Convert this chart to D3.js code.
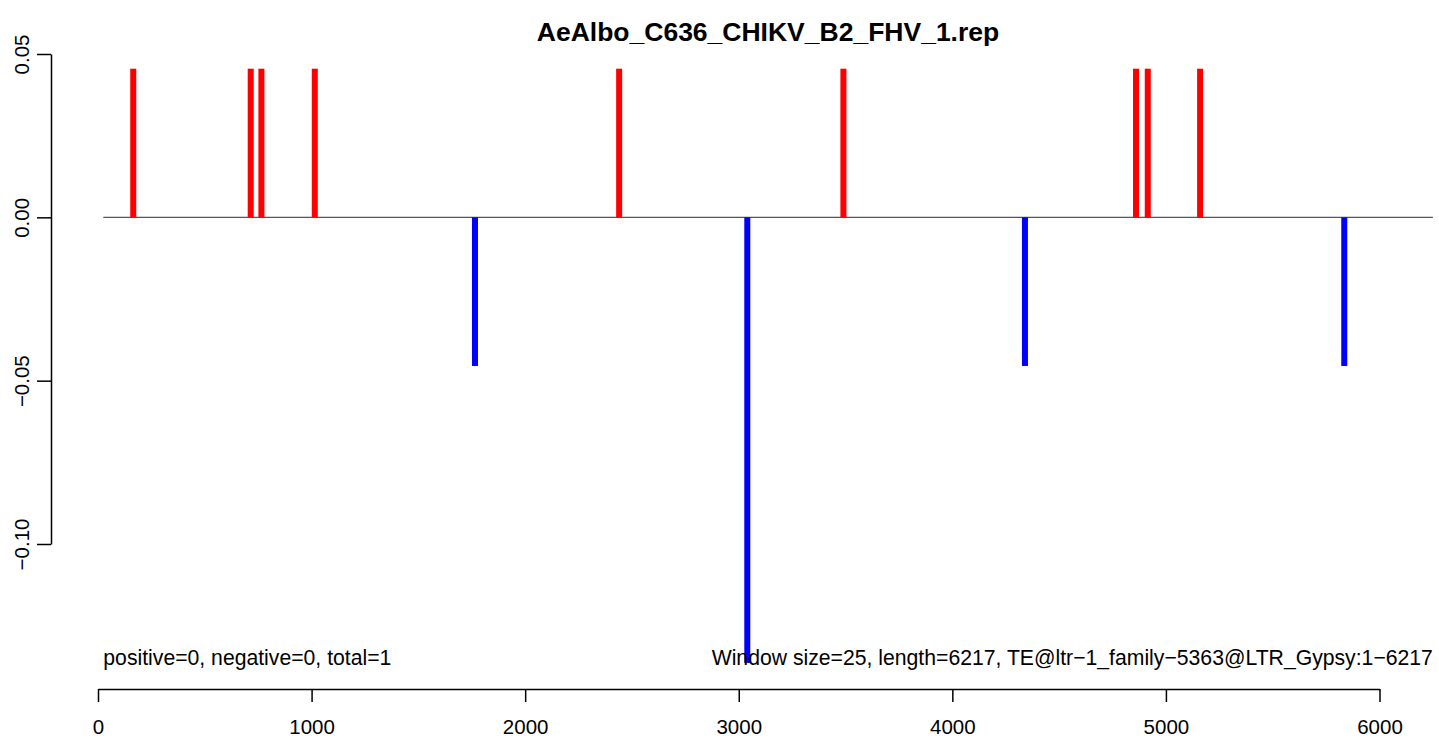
<!DOCTYPE html>
<html>
<head>
<meta charset="utf-8">
<script src="https://cdn.jsdelivr.net/npm/d3@7"></script>
<style>
  html, body { margin: 0; padding: 0; background: #fff; }
  svg { display: block; font-family: "Liberation Sans", Arial, Helvetica, sans-serif; }
</style>
</head>
<body>
<svg id="chart" width="1439" height="740"></svg>
<script>
// ---- data ----
const title = "AeAlbo_C636_CHIKV_B2_FHV_1.rep";
const positions = [165, 715, 765, 1015, 1765, 2440, 3040, 3490, 4340, 4860, 4915, 5160, 5835];
const values    = [0.0455, 0.0455, 0.0455, 0.0455, -0.0455, 0.0455, -0.1364, 0.0455, -0.0455, 0.0455, 0.0455, 0.0455, -0.0455];
const xTicks = [0, 1000, 2000, 3000, 4000, 5000, 6000];
const yTicks = [0.05, 0.00, -0.05, -0.10];
const yTickLabels = ["0.05", "0.00", "\u22120.05", "\u22120.10"];
const baselineRange = [25, 6250];
const leftNote = "positive=0, negative=0, total=1";
const rightNote = "Window size=25, length=6217, TE@ltr\u22121_family\u22125363@LTR_Gypsy:1\u22126217";

const svg = d3.select("#chart");

const x = d3.scaleLinear().domain([0, 6000]).range([98, 1379.5]);
const y = d3.scaleLinear().domain([-0.10, 0.05]).range([544, 54]);

// baseline
svg.append("line")
  .attr("x1", x(baselineRange[0])).attr("x2", x(baselineRange[1]))
  .attr("y1", y(0)).attr("y2", y(0))
  .attr("stroke", "#555").attr("stroke-width", 1.2);

// bars
const data = positions.map((p, i) => ({p, v: values[i]}));
svg.append("g").selectAll("rect").data(data).enter().append("rect")
  .attr("x", d => x(d.p) - 3)
  .attr("width", 6)
  .attr("y", d => d.v > 0 ? y(d.v) : y(0))
  .attr("height", d => Math.abs(y(d.v) - y(0)))
  .attr("fill", d => d.v > 0 ? "#FF0000" : "#0000FF");

// x axis
const xAxis = svg.append("g")
  .attr("transform", "translate(0,689)")
  .call(d3.axisBottom(x).tickValues(xTicks).tickFormat(d3.format("d"))
        .tickSize(13).tickSizeOuter(0).tickPadding(17));
xAxis.select(".domain").attr("stroke", "#000").attr("stroke-width", 1.5);
xAxis.selectAll(".tick line").attr("stroke", "#000").attr("stroke-width", 1.5);
xAxis.selectAll(".tick text").attr("font-size", 20.5).attr("fill", "#000")
  .attr("font-family", "Liberation Sans, Arial, sans-serif");

// y axis
const yAxis = svg.append("g")
  .attr("transform", "translate(51,0)")
  .call(d3.axisLeft(y).tickValues(yTicks).tickFormat((d, i) => yTickLabels[i])
        .tickSize(14).tickSizeOuter(0));
yAxis.select(".domain").attr("stroke", "#000").attr("stroke-width", 1.5);
yAxis.selectAll(".tick line").attr("stroke", "#000").attr("stroke-width", 1.5);
yAxis.selectAll(".tick text")
  .attr("font-size", 20.5).attr("fill", "#000")
  .attr("font-family", "Liberation Sans, Arial, sans-serif")
  .attr("text-anchor", "middle")
  .attr("transform", "rotate(-90)")
  .attr("x", 0).attr("y", -22).attr("dy", 0);

// title
svg.append("text")
  .attr("x", 768).attr("y", 41)
  .attr("text-anchor", "middle")
  .attr("font-weight", "bold").attr("font-size", 26.5)
  .text(title);

// notes
svg.append("text")
  .attr("x", x(baselineRange[0])).attr("y", 665)
  .attr("font-size", 21.2)
  .text(leftNote);
svg.append("text")
  .attr("x", x(baselineRange[1])).attr("y", 665)
  .attr("text-anchor", "end")
  .attr("font-size", 21.2)
  .text(rightNote);
</script>
</body>
</html>
